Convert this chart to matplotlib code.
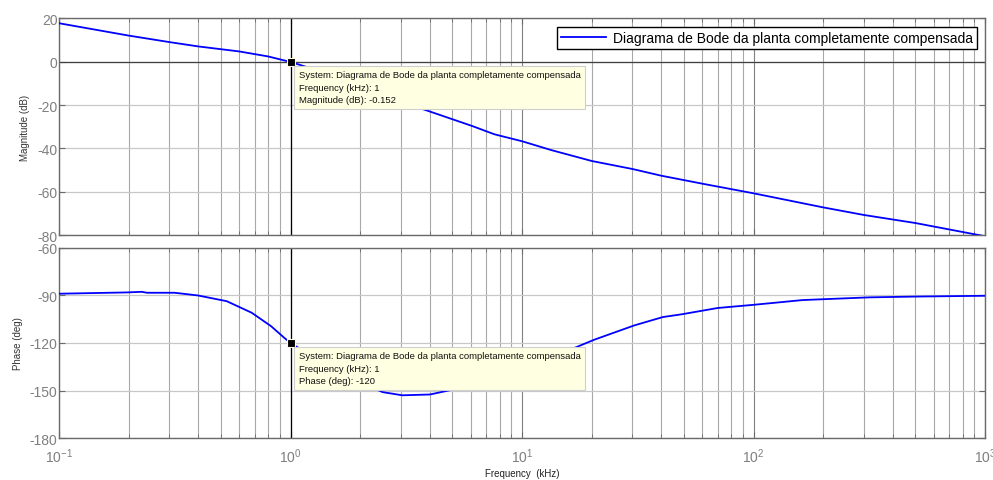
import matplotlib
matplotlib.use("Agg")
import matplotlib.pyplot as plt
from matplotlib.ticker import LogLocator, NullFormatter, FixedLocator

plt.rcParams.update({
    "font.family": ["Liberation Sans", "DejaVu Sans"],
    "mathtext.fontset": "custom",
    "mathtext.rm": "Liberation Sans",
    "mathtext.it": "Liberation Sans",
    "axes.linewidth": 1.0,
    "axes.unicode_minus": False,
})

# ---- dados ----
freq_mag = [0.1, 0.2, 0.3, 0.4, 0.6, 0.8, 1.0, 1.5, 2.0, 3.0, 4.0, 6.1, 7.6,
            10.0, 13.4, 20.0, 30.0, 40.0, 61.0, 100.0, 200.0, 300.0, 500.0, 1000.0]
mag_db = [17.7, 12.0, 9.0, 7.0, 4.7, 2.4, -0.152, -6.0, -11.0, -18.5, -23.0, -29.7, -33.5,
          -36.7, -40.8, -45.8, -49.5, -52.6, -56.4, -60.7, -67.2, -70.7, -74.4, -80.5]

freq_ph = [0.1, 0.195, 0.228, 0.24, 0.316, 0.398, 0.53, 0.68, 0.825, 0.94, 1.0,
           1.5, 2.0, 2.5, 3.04, 4.0, 6.0, 10.0, 16.3, 20.5, 30.5, 40.6, 48.8,
           70.0, 100.0, 163.0, 316.0, 500.0, 1000.0]
phase_deg = [-89.0, -88.2, -87.8, -88.4, -88.4, -90.1, -93.7, -101.0, -109.5, -116.8, -120.0,
             -136.0, -145.0, -151.0, -153.0, -152.5, -147.0, -137.0, -124.0, -118.0, -109.0,
             -103.7, -102.0, -98.0, -96.0, -93.0, -91.3, -90.8, -90.3]

mag_ticks = [-80, -60, -40, -20, 0, 20]
phase_ticks = [-180, -150, -120, -90, -60]
x_ticks = [0.1, 1, 10, 100, 1000]
x_ticklabels = ["$10^{-1}$", "$10^{0}$", "$10^{1}$", "$10^{2}$", "$10^{3}$"]

legend_label = "Diagrama de Bode da planta completamente compensada"
tip_mag = "System: Diagrama de Bode da planta completamente compensada\nFrequency (kHz): 1\nMagnitude (dB): -0.152"
tip_phase = "System: Diagrama de Bode da planta completamente compensada\nFrequency (kHz): 1\nPhase (deg): -120"

TICK_GREY = "#7f7f7f"
EDGE_GREY = "#6a6a6a"

fig = plt.figure(figsize=(9.93, 4.81), dpi=100)
ax1 = fig.add_axes([0.0594, 0.509, 0.9326, 0.451])
ax2 = fig.add_axes([0.0594, 0.087, 0.9326, 0.396])


def style_axis(ax, yticks, ylim):
    ax.set_xscale("log")
    ax.set_xlim(0.1, 1000)
    ax.set_ylim(*ylim)
    ax.yaxis.set_major_locator(FixedLocator(yticks))
    ax.xaxis.set_major_locator(FixedLocator(x_ticks))
    ax.xaxis.set_minor_locator(LogLocator(base=10, subs=range(2, 10)))
    ax.xaxis.set_minor_formatter(NullFormatter())
    # grade estilo MATLAB
    ax.grid(True, axis="y", which="major", color="#c8c8c8", lw=0.9)
    ax.grid(True, axis="x", which="major", color="#808080", lw=0.8)
    ax.grid(True, axis="x", which="minor", color="#a8a8a8", lw=0.8)
    ax.set_axisbelow(True)
    ax.tick_params(which="both", direction="in", top=True, right=True,
                   colors=EDGE_GREY, labelcolor=TICK_GREY, labelsize=10, pad=1)
    ax.tick_params(which="major", length=4)
    ax.tick_params(which="minor", length=3)
    for sp in ax.spines.values():
        sp.set_color(EDGE_GREY)
    ax.axvline(1, color="black", lw=0.9, zorder=2)


style_axis(ax1, mag_ticks, (-80, 20))
style_axis(ax2, phase_ticks, (-180, -60))

ax1.axhline(0, color="#404040", lw=0.9, zorder=1.5)

line, = ax1.plot(freq_mag, mag_db, color="#0000ff", lw=1.3, zorder=3, label=legend_label)
ax2.plot(freq_ph, phase_deg, color="#0000ff", lw=1.3, zorder=3)

ax1.set_xticklabels([])
ax2.set_xticks(x_ticks)
ax2.set_xticklabels(x_ticklabels)
ax2.tick_params(axis="x", pad=6)

ax1.set_ylabel("Magnitude (dB)", fontsize=7, color="#333333", labelpad=5)
ax2.set_ylabel("Phase (deg)", fontsize=7, color="#333333", labelpad=5)
ax2.set_xlabel("Frequency  (kHz)", fontsize=7, color="#222222", labelpad=2)

leg = ax1.legend(loc="upper right", fontsize=10, frameon=True, fancybox=False,
                 handlelength=3.2, borderpad=0.3, borderaxespad=0.6, handletextpad=0.5)
leg.get_frame().set_edgecolor("black")
leg.get_frame().set_linewidth(1.0)
leg.get_frame().set_alpha(1)

# datatips
for ax, yv, txt in [(ax1, -0.152, tip_mag), (ax2, -120, tip_phase)]:
    ax.plot([1], [yv], marker="s", ms=6, color="black", mec="#fffde0", mew=0.8, zorder=6)
    ax.annotate(txt, xy=(1, yv), xytext=(6, -6), textcoords="offset points",
                ha="left", va="top", fontsize=6.8, color="#111111", linespacing=1.5,
                bbox=dict(boxstyle="square,pad=0.5", fc="#ffffe1", ec="#cfcfcf", lw=0.8),
                zorder=7)

fig.savefig("out.png", dpi=100)
